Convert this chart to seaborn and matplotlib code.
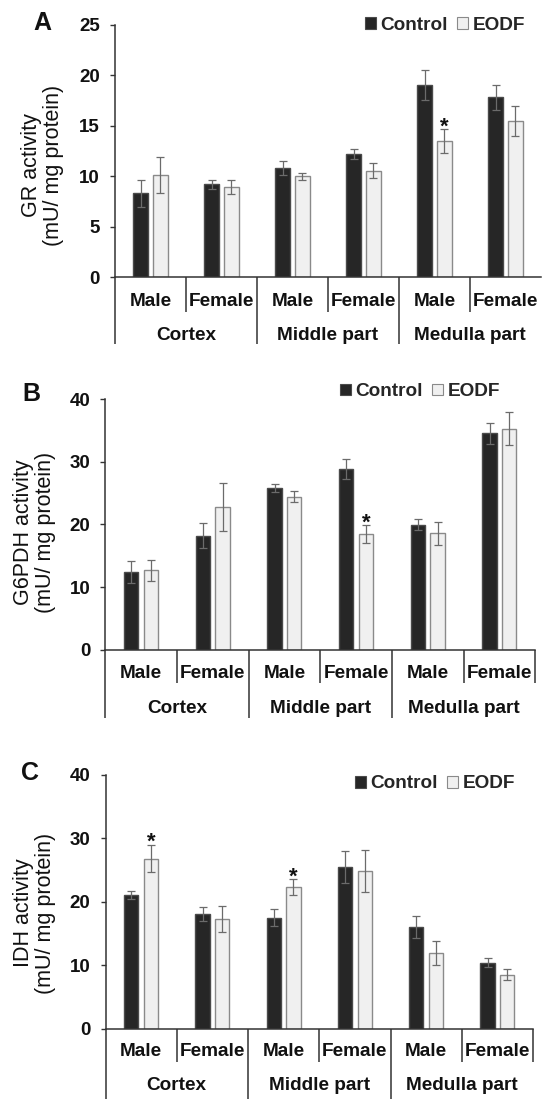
import matplotlib
matplotlib.use("Agg")
import matplotlib.pyplot as plt
import seaborn as sns
import pandas as pd
import numpy as np
from matplotlib.patches import Patch

# ---------------- data ----------------
sexes = ["Male", "Female", "Male", "Female", "Male", "Female"]
regions = ["Cortex", "Middle part", "Medulla part"]
groups = ["Control", "EODF"]

gr_control = [8.3, 9.2, 10.8, 12.2, 19.0, 17.8]
gr_control_err = [1.3, 0.45, 0.7, 0.5, 1.5, 1.2]
gr_eodf = [10.1, 8.9, 10.0, 10.55, 13.5, 15.5]
gr_eodf_err = [1.8, 0.7, 0.36, 0.77, 1.2, 1.5]
gr_sig = [4]

g6pdh_control = [12.4, 18.2, 25.85, 28.8, 19.95, 34.5]
g6pdh_control_err = [1.7, 1.95, 0.65, 1.6, 0.9, 1.7]
g6pdh_eodf = [12.65, 22.8, 24.4, 18.5, 18.55, 35.25]
g6pdh_eodf_err = [1.65, 3.8, 0.9, 1.4, 1.9, 2.6]
g6pdh_sig = [3]

idh_control = [21.05, 18.05, 17.5, 25.45, 16.0, 10.4]
idh_control_err = [0.6, 1.05, 1.4, 2.5, 1.7, 0.7]
idh_eodf = [26.8, 17.2, 22.3, 24.8, 11.9, 8.5]
idh_eodf_err = [2.2, 2.05, 1.25, 3.3, 1.85, 0.85]
idh_sig = [0, 2]

ylabels = [("GR activity", "(mU/ mg protein)"),
           ("G6PDH activity", "(mU/ mg protein)"),
           ("IDH activity", "(mU/ mg protein)")]
letters = ["A", "B", "C"]
yticks_A = [0, 5, 10, 15, 20, 25]
yticks_BC = [0, 10, 20, 30, 40]

# ---------------- style ----------------
sns.set_theme(style="ticks")
plt.rcParams['font.family'] = ['Liberation Sans', 'DejaVu Sans']

W, H = 544, 1099
fig = plt.figure(figsize=(W / 100, H / 100), dpi=100)

CTRL_FACE, CTRL_EDGE = "#262626", "#4a4a4a"
EODF_FACE, EODF_EDGE = "#f0f0f0", "#8a8a8a"
AX_COL = "#333333"

layouts = [
    dict(x0=115, x1=541, yz=277.3, yt=24.7, gap=0.23, short=34.4, tall=66.7,
         row1=24.4, row2=57.7, leg=(525, 25), let=(42, 22.5), ylx=(31.5, 53.5),
         yly=165, rend=False),
    dict(x0=105.3, x1=535.3, yz=649.7, yt=399, gap=0.27, short=33, tall=68,
         row1=23.3, row2=58.3, leg=(500, 391.7), let=(31, 394), ylx=(23.5, 45.5),
         yly=532, rend=True),
    dict(x0=105.5, x1=533, yz=1028.7, yt=774.7, gap=0.27, short=33, tall=72,
         row1=23.3, row2=56.7, leg=(515, 784), let=(30.5, 773.5), ylx=(23.5, 45.5),
         yly=913, rend=True),
]

datasets = [
    (gr_control, gr_control_err, gr_eodf, gr_eodf_err, gr_sig, 25, yticks_A),
    (g6pdh_control, g6pdh_control_err, g6pdh_eodf, g6pdh_eodf_err, g6pdh_sig, 40, yticks_BC),
    (idh_control, idh_control_err, idh_eodf, idh_eodf_err, idh_sig, 40, yticks_BC),
]

keys = [f"{regions[i // 2]} {sexes[i]}" for i in range(6)]

for k, (lay, ds) in enumerate(zip(layouts, datasets)):
    ctrl, ctrl_err, eodf, eodf_err, sig, ymax, yt = ds
    left = lay["x0"] / W
    width = (lay["x1"] - lay["x0"]) / W
    bottom = 1 - lay["yz"] / H
    height = (lay["yz"] - lay["yt"]) / H
    ax = fig.add_axes([left, bottom, width, height])
    axh = lay["yz"] - lay["yt"]

    df = pd.DataFrame({"key": keys * 2,
                       "value": list(ctrl) + list(eodf),
                       "group": ["Control"] * 6 + ["EODF"] * 6})
    sns.barplot(data=df, x="key", y="value", hue="group", order=keys,
                hue_order=groups, palette=[CTRL_FACE, EODF_FACE], saturation=1,
                width=0.548, gap=lay["gap"], errorbar=None, linewidth=1.0,
                legend=False, ax=ax)
    conts = list(ax.containers)
    for b in conts[0]:
        b.set_edgecolor(CTRL_EDGE)
    for b in conts[1]:
        b.set_edgecolor(EODF_EDGE)

    for cont, err in zip(conts, [ctrl_err, eodf_err]):
        xs = [b.get_x() + b.get_width() / 2 for b in cont]
        ys = [b.get_height() for b in cont]
        ax.errorbar(xs, ys, yerr=err, fmt="none", ecolor="#6b6b6b",
                    elinewidth=0.9, capsize=2.9, capthick=0.9, zorder=3)

    for i in sig:
        b = conts[1][i]
        xc = b.get_x() + b.get_width() / 2
        ax.annotate("*", (xc, b.get_height() + eodf_err[i]), xytext=(0, -2.5),
                    textcoords="offset points", ha="center", va="baseline",
                    fontsize=16, fontweight="bold", color="#111111")

    ax.set_xlim(-0.5, 5.5)
    ax.set_ylim(0, ymax)
    ax.set_yticks(yt)
    ax.set_xticks([])
    ax.set_xlabel("")
    ax.set_ylabel("")
    for s in ["top", "right"]:
        ax.spines[s].set_visible(False)
    for s in ["left", "bottom"]:
        ax.spines[s].set_color(AX_COL)
        ax.spines[s].set_linewidth(1.1)
    ax.tick_params(axis="y", left=True, length=3.6, width=1.0, direction="out",
                   pad=7.2, labelsize=13.5, color=AX_COL, labelcolor="#111111")
    for lbl in ax.get_yticklabels():
        lbl.set_fontweight("bold")

    tr = ax.get_xaxis_transform()
    short = -lay["short"] / axh
    tall = -lay["tall"] / axh
    for xb in [-0.5, 1.5, 3.5]:
        ax.plot([xb, xb], [0, tall], transform=tr, color=AX_COL, lw=1.1,
                clip_on=False, solid_capstyle="butt")
    shorts = [0.5, 2.5, 4.5] + ([5.5] if lay["rend"] else [])
    for xb in shorts:
        ax.plot([xb, xb], [0, short], transform=tr, color=AX_COL, lw=1.1,
                clip_on=False, solid_capstyle="butt")
    for i, s in enumerate(sexes):
        ax.text(i, -lay["row1"] / axh, s, transform=tr, ha="center", va="center",
                fontsize=13.7, fontweight="bold", color="#111111")
    for j, r in enumerate(regions):
        ax.text(2 * j + 0.5, -lay["row2"] / axh, r, transform=tr, ha="center",
                va="center", fontsize=13.7, fontweight="bold", color="#111111")

    handles = [Patch(facecolor=CTRL_FACE, edgecolor=CTRL_EDGE, linewidth=0.8),
               Patch(facecolor=EODF_FACE, edgecolor=EODF_EDGE, linewidth=0.8)]
    fig.legend(handles, groups, loc="center right",
               bbox_to_anchor=(lay["leg"][0] / W, 1 - lay["leg"][1] / H),
               ncol=2, frameon=False, prop={"weight": "bold", "size": 13.7},
               handlelength=0.58, handleheight=0.58, handletextpad=0.25,
               columnspacing=0.45, borderpad=0, borderaxespad=0)

    fig.text(lay["let"][0] / W, 1 - lay["let"][1] / H, letters[k], ha="center",
             va="center", fontsize=18, fontweight="bold", color="#111111")
    for line, xl in zip(ylabels[k], lay["ylx"]):
        fig.text(xl / W, 1 - lay["yly"] / H, line, rotation=90, ha="center",
                 va="center", fontsize=15.5, color="#111111")

fig.savefig("out.png", dpi=100)
